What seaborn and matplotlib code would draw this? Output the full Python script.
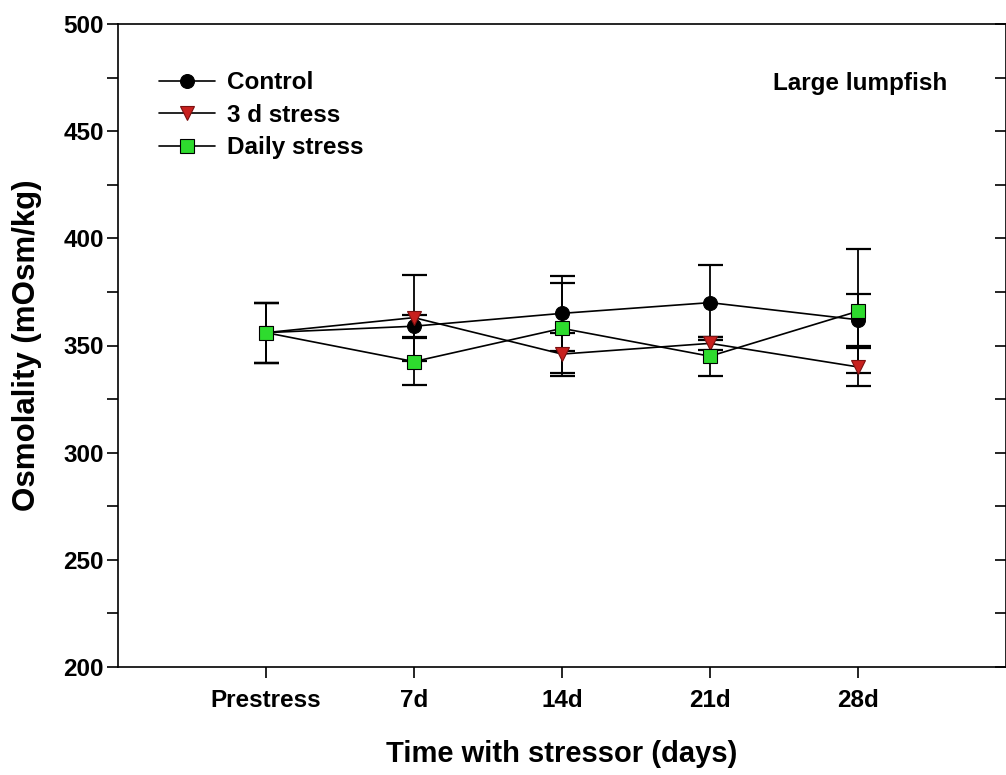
import numpy as np
import pandas as pd
import matplotlib
matplotlib.use("Agg")
import matplotlib.pyplot as plt
from matplotlib.ticker import MultipleLocator
import seaborn as sns

# ========== Data ==========

timepoints = ["Prestress", "7d", "14d", "21d", "28d"]

control_mean = [356, 359, 365, 370, 362]
control_err = [14, 5, 17.5, 17.5, 12]

stress3d_mean = [356, 363, 346, 351, 340]
stress3d_err = [14, 20, 10, 3, 9]

daily_mean = [356, 342.5, 358, 345, 366]
daily_err = [14, 11, 21, 9, 29]

series_names = ["Control", "3 d stress", "Daily stress"]

# ========== Plot ==========

sns.set_style("ticks")
plt.rcParams['font.family'] = ['Liberation Sans', 'DejaVu Sans']
plt.rcParams['font.weight'] = 'bold'
plt.rcParams['text.color'] = 'black'
plt.rcParams['xtick.color'] = 'black'
plt.rcParams['ytick.color'] = 'black'
plt.rcParams['axes.labelcolor'] = 'black'

fig = plt.figure(figsize=(10.06, 7.75), dpi=100)
ax = fig.add_axes([118 / 1006, 108 / 775, 888 / 1006, 643 / 775])

pos = np.arange(1, len(timepoints) + 1)

styles = [
    dict(marker="o", markerfacecolor="black", markeredgecolor="black", markersize=10),
    dict(marker="v", markerfacecolor="#C8201E", markeredgecolor="#7a1010", markersize=10),
    dict(marker="s", markerfacecolor="#2EDB2E", markeredgecolor="black", markersize=10),
]
means = [control_mean, stress3d_mean, daily_mean]
errs = [control_err, stress3d_err, daily_err]

# error bars underneath markers
for m, e in zip(means, errs):
    ax.errorbar(pos, m, yerr=e, fmt="none", ecolor="black", elinewidth=1.3,
                capsize=9, capthick=1.6, zorder=2)

for name, m, st in zip(series_names, means, styles):
    df = pd.DataFrame({"x": pos, "y": m})
    sns.lineplot(data=df, x="x", y="y", ax=ax, color="black", linewidth=1.2,
                 label=name, zorder=3, markeredgewidth=0.8, **st)

ax.set_xlim(0, 6)
ax.set_ylim(200, 500)
ax.set_xticks(pos)
ax.set_xticklabels(timepoints)
ax.yaxis.set_major_locator(MultipleLocator(50))
ax.yaxis.set_minor_locator(MultipleLocator(25))

for s in ax.spines.values():
    s.set_linewidth(1.2)
    s.set_color("black")

ax.tick_params(axis="x", which="major", direction="out", length=8, width=1.2,
               labelsize=17.5, pad=8)
ax.tick_params(axis="y", which="both", direction="out", length=8, width=1.2,
               labelsize=17.5, right=True, pad=2)

# right-side ticks drawn inward
for t in ax.yaxis.get_major_ticks() + ax.yaxis.get_minor_ticks():
    t.tick2line.set_marker(matplotlib.lines.TICKLEFT)

ax.set_xlabel("Time with stressor (days)", fontsize=21, fontweight="bold")
ax.xaxis.set_label_coords(0.5, -0.113)
ax.set_ylabel("Osmolality (mOsm/kg)", fontsize=22.5, fontweight="bold")
ax.yaxis.set_label_coords(-0.086, 0.5)

ax.text(0.934, 0.908, "Large lumpfish", transform=ax.transAxes, ha="right",
        va="center", fontsize=17.5, fontweight="bold")

handles, labels = ax.get_legend_handles_labels()
leg = ax.legend(handles, labels, loc="upper left", bbox_to_anchor=(0.035, 0.942),
                frameon=False, fontsize=17.5, handlelength=2.3, handletextpad=0.5,
                labelspacing=0.4, borderaxespad=0)

fig.savefig("out.png", dpi=100)
